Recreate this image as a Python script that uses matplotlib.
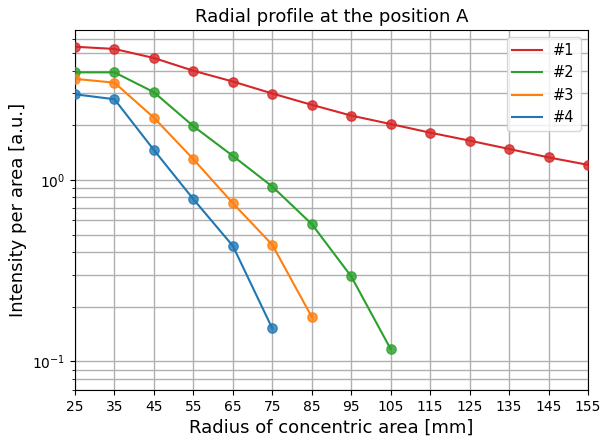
import numpy as np
import matplotlib
matplotlib.use("Agg")
import matplotlib.pyplot as plt

# radial profile data
radius = [25, 35, 45, 55, 65, 75, 85, 95, 105, 115, 125, 135, 145, 155]
p1 = [5.41, 5.26, 4.69, 3.99, 3.48, 2.99, 2.59, 2.26, 2.03, 1.82, 1.645, 1.48, 1.33, 1.21]
p2 = [3.91, 3.91, 3.04, 1.975, 1.355, 0.919, 0.571, 0.294, 0.117]
p3 = [3.60, 3.43, 2.20, 1.30, 0.744, 0.439, 0.176]
p4 = [2.96, 2.78, 1.46, 0.783, 0.433, 0.152]

labels = ["#1", "#2", "#3", "#4"]
colors = ["tab:red", "tab:green", "tab:orange", "tab:blue"]
series = [p1, p2, p3, p4]

fig = plt.figure(figsize=(6, 4.41), dpi=100)
ax = fig.add_axes([0.125, 0.116, 0.855, 0.816])

for y, lab, c in zip(series, labels, colors):
    x = radius[:len(y)]
    ax.plot(x, y, color=c, lw=1.5, label=lab)
    ax.scatter(x, y, color=c, s=45, alpha=0.8, zorder=3)

ax.set_yscale("log")
ax.set_xlim(25, 155)
ax.set_ylim(0.0698, 6.69)
ax.set_xticks(radius)
ax.grid(which="both", color="#b0b0b0", lw=1)
ax.set_axisbelow(True)
ax.tick_params(labelsize=10)

ax.set_title("Radial profile at the position A", fontsize=13)
ax.set_xlabel("Radius of concentric area [mm]", fontsize=13)
ax.set_ylabel("Intensity per area [a.u.]", fontsize=13)
ax.legend(loc="upper right", fontsize=10.5)

fig.savefig("out.png")
